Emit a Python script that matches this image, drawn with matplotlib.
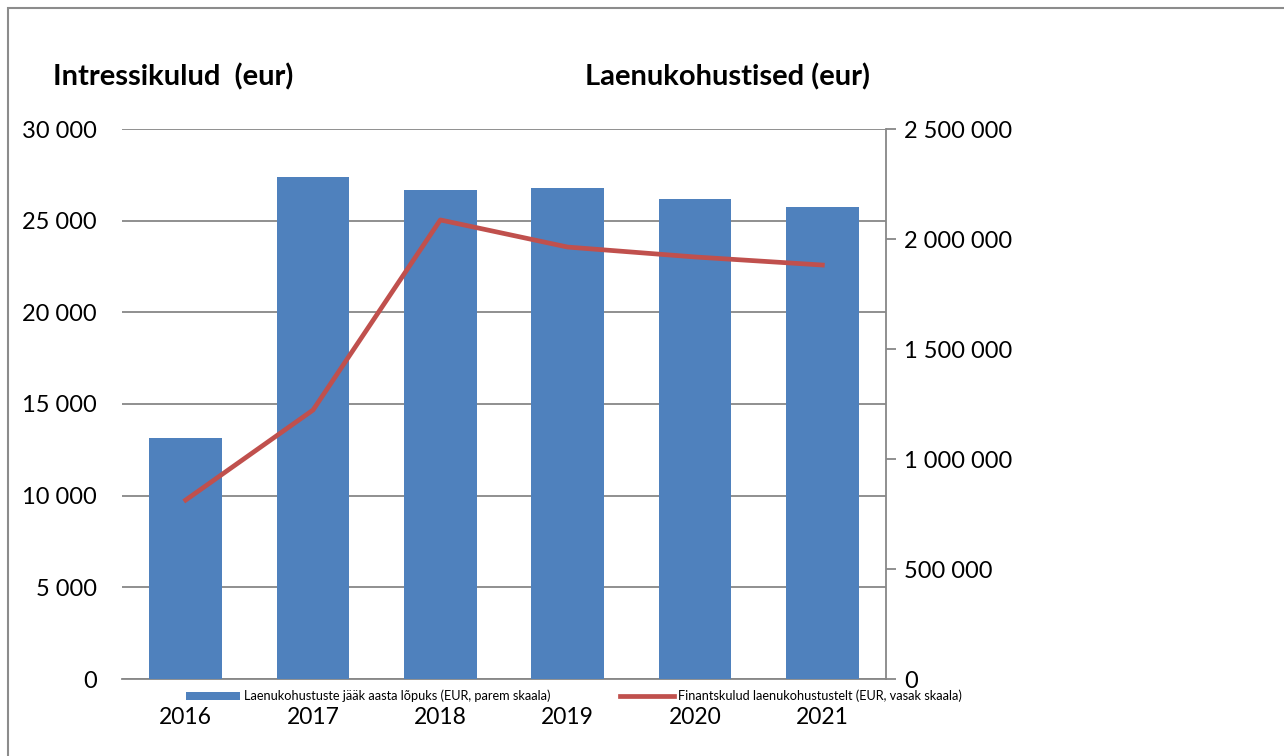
import matplotlib.pyplot as plt
import matplotlib.patches as mpatches
from matplotlib.ticker import FuncFormatter

plt.rcParams['font.family'] = ['Lato', 'DejaVu Sans']

# data
years = ['2016', '2017', '2018', '2019', '2020', '2021']
loan_balance = [1095000, 2282000, 2223000, 2232000, 2182000, 2145000]   # right axis
finance_costs = [9760, 14670, 25040, 23560, 23020, 22580]             # left axis

bar_color = '#4F81BD'
line_color = '#C0504D'
grid_color = '#878787'


def space_thousands(v, pos):
    return f'{int(round(v)):,}'.replace(',', ' ')


fig = plt.figure(figsize=(12.84, 7.56), dpi=100, facecolor='white')

# outer frame like the exported office chart
fig.patches.append(mpatches.Rectangle((8 / 1284, -0.1), 1.2, 1 - 8 / 756 + 0.1,
                                      transform=fig.transFigure, fill=False,
                                      edgecolor='#8c8c8c', linewidth=1.5))

pos = [122 / 1284, 1 - 679 / 756, (886 - 122) / 1284, 550 / 756]
ax = fig.add_axes(pos)          # left scale, grid (bottom layer)
ax2 = ax.twinx()                # right scale, bars
ax3 = fig.add_axes(pos, sharex=ax, sharey=ax)   # left scale again, line on top
ax3.axis('off')

x = range(len(years))

ax.set_ylim(0, 30000)
ax.set_yticks(range(0, 30001, 5000))
ax.yaxis.set_major_formatter(FuncFormatter(space_thousands))
ax.yaxis.grid(True, color=grid_color, linewidth=1.3)
ax.set_xlim(-0.5, len(years) - 0.5)
ax.set_xticks(list(x))
ax.set_xticklabels(years)

ax2.bar(x, loan_balance, width=0.57, color=bar_color,
        label='Laenukohustuste jääk aasta lõpuks (EUR, parem skaala)')
ax2.set_ylim(0, 2500000)
ax2.set_yticks(range(0, 2500001, 500000))
ax2.yaxis.set_major_formatter(FuncFormatter(space_thousands))

ax3.plot(x, finance_costs, color=line_color, linewidth=3.4,
         label='Finantskulud laenukohustustelt (EUR, vasak skaala)')

for a in (ax, ax2):
    for s in ('top', 'left', 'right', 'bottom'):
        a.spines[s].set_visible(False)
ax.spines['bottom'].set_visible(True)
ax.spines['bottom'].set_color(grid_color)
ax.spines['bottom'].set_linewidth(1.3)
ax2.spines['right'].set_visible(True)
ax2.spines['right'].set_color(grid_color)
ax2.spines['right'].set_linewidth(1.3)

ax.tick_params(axis='y', length=0, pad=18, labelsize=17)
ax.tick_params(axis='x', length=0, pad=20, labelsize=16.5)
ax2.tick_params(axis='y', length=7, width=1.3, color=grid_color, pad=6, labelsize=17)

fig.text(53 / 1284, 1 - 77 / 756, 'Intressikulud  (eur)', fontsize=21,
         fontweight='bold', va='center', ha='left')
fig.text(585 / 1284, 1 - 77 / 756, 'Laenukohustised (eur)', fontsize=21,
         fontweight='bold', va='center', ha='left')

h1, l1 = ax2.get_legend_handles_labels()
h2, l2 = ax3.get_legend_handles_labels()
fig.legend(h1 + h2, l1 + l2, loc='center', bbox_to_anchor=(574 / 1284, 1 - 696 / 756),
           ncol=2, frameon=False, fontsize=9.2, handlelength=4.2, handleheight=0.6,
           handletextpad=0.3, columnspacing=5.5)

fig.savefig('out.png', dpi=100, facecolor='white')
